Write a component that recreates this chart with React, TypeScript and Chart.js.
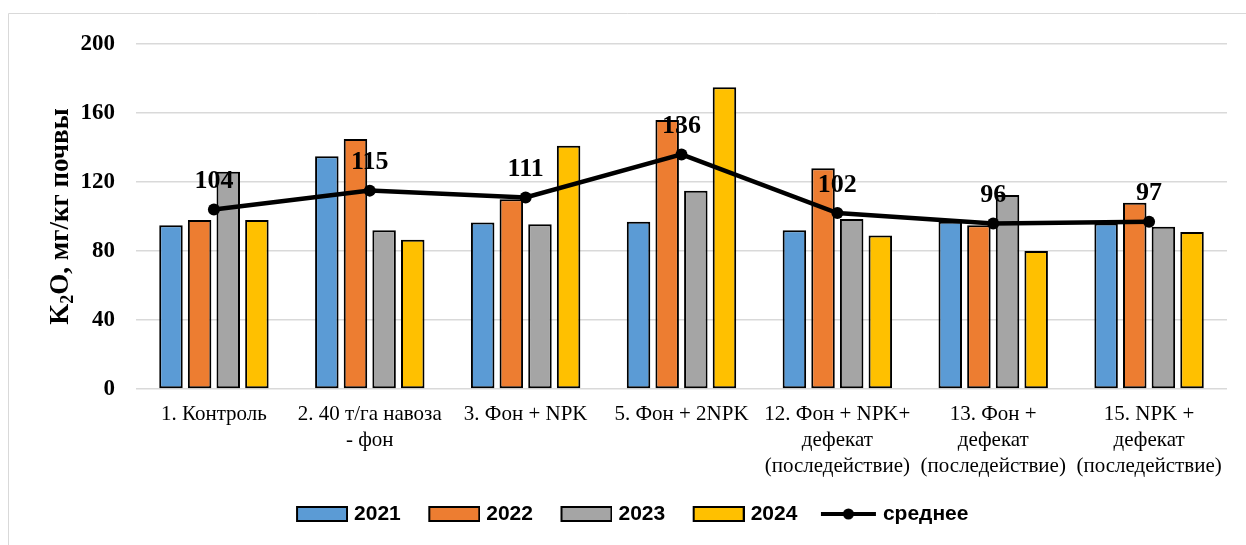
import React, { useEffect, useRef } from 'react';
import { Chart, registerables } from 'chart.js';

Chart.register(...registerables);

const categories: (string | string[])[] = [
  '1. Контроль',
  ['2. 40 т/га навоза', '- фон'],
  '3. Фон + NPK',
  '5. Фон + 2NPK',
  ['12. Фон + NPK+', 'дефекат', '(последействие)'],
  ['13. Фон +', 'дефекат', '(последействие)'],
  ['15. NPK +', 'дефекат', '(последействие)'],
];

const values2021 = [95, 135, 96.5, 97, 92, 97, 96];
const values2022 = [98, 145, 110, 156, 128, 95, 108];
const values2023 = [126, 92, 95.5, 115, 98.5, 112.5, 94];
const values2024 = [98, 86.5, 141, 175, 89, 80, 91];
const meanValues = [104, 115, 111, 136, 102, 96, 97];

const seriesLabels = ['2021', '2022', '2023', '2024', 'среднее'];
const seriesColors = ['#5B9BD5', '#ED7D31', '#A5A5A5', '#FFC000'];

const yMin = 0;
const yMax = 200;
const yStep = 40;

const SERIF = "'Liberation Serif', 'Times New Roman', serif";
const SANS = "'Liberation Sans', Arial, sans-serif";

function makeBoxImage(color: string): HTMLCanvasElement {
  const c = document.createElement('canvas');
  c.width = 64;
  c.height = 16;
  const ctx = c.getContext('2d')!;
  ctx.fillStyle = color;
  ctx.fillRect(13, 1, 50, 14);
  ctx.strokeStyle = '#000';
  ctx.lineWidth = 2;
  ctx.strokeRect(13, 1, 50, 14);
  return c;
}

function makeLineImage(): HTMLCanvasElement {
  const c = document.createElement('canvas');
  c.width = 64;
  c.height = 14;
  const ctx = c.getContext('2d')!;
  ctx.strokeStyle = '#000';
  ctx.lineWidth = 4;
  ctx.beginPath();
  ctx.moveTo(8, 7);
  ctx.lineTo(63, 7);
  ctx.stroke();
  ctx.fillStyle = '#000';
  ctx.beginPath();
  ctx.arc(35.5, 7, 5.5, 0, Math.PI * 2);
  ctx.fill();
  return c;
}

const framePlugin = {
  id: 'frame',
  beforeDraw(chart: any) {
    const ctx = chart.ctx;
    ctx.save();
    ctx.strokeStyle = '#D9D9D9';
    ctx.lineWidth = 1;
    ctx.beginPath();
    ctx.moveTo(8.5, chart.height);
    ctx.lineTo(8.5, 13.5);
    ctx.lineTo(chart.width, 13.5);
    ctx.stroke();
    ctx.restore();
  },
};

const yTitlePlugin = {
  id: 'yTitle',
  afterDraw(chart: any) {
    const ctx = chart.ctx;
    const area = chart.chartArea;
    const cy = (area.top + area.bottom) / 2;
    const size = 27;
    const subSize = 18;
    const big = `bold ${size}px ${SERIF}`;
    const small = `bold ${subSize}px ${SERIF}`;
    ctx.save();
    ctx.fillStyle = '#000';
    ctx.textBaseline = 'alphabetic';
    ctx.textAlign = 'left';
    ctx.font = big;
    const wK = ctx.measureText('K').width;
    const rest = 'O, мг/кг почвы';
    const wRest = ctx.measureText(rest).width;
    ctx.font = small;
    const w2 = ctx.measureText('2').width;
    const total = wK + w2 + wRest;
    ctx.translate(68, cy);
    ctx.rotate(-Math.PI / 2);
    let x = -total / 2;
    ctx.font = big;
    ctx.fillText('K', x, 0);
    x += wK;
    ctx.font = small;
    ctx.fillText('2', x, 5);
    x += w2;
    ctx.font = big;
    ctx.fillText(rest, x, 0);
    ctx.restore();
  },
};

const meanLabelPlugin = {
  id: 'meanLabels',
  afterDatasetsDraw(chart: any) {
    const idx = 4;
    const meta = chart.getDatasetMeta(idx);
    const ds = chart.data.datasets[idx];
    const ctx = chart.ctx;
    ctx.save();
    ctx.fillStyle = '#000';
    ctx.font = `bold 26px ${SERIF}`;
    ctx.textAlign = 'center';
    ctx.textBaseline = 'middle';
    meta.data.forEach((pt: any, i: number) => {
      ctx.fillText(String(ds.data[i]), pt.x, pt.y - 28);
    });
    ctx.restore();
  },
};

export default function App() {
  const canvasRef = useRef<HTMLCanvasElement | null>(null);

  useEffect(() => {
    const canvas = canvasRef.current;
    if (!canvas) return;
    const legendImages = [
      makeBoxImage(seriesColors[0]),
      makeBoxImage(seriesColors[1]),
      makeBoxImage(seriesColors[2]),
      makeBoxImage(seriesColors[3]),
      makeLineImage(),
    ];
    const barSeries = [values2021, values2022, values2023, values2024];
    const datasets: any[] = barSeries.map((vals, i) => ({
      type: 'bar',
      label: seriesLabels[i],
      data: vals,
      backgroundColor: seriesColors[i],
      borderColor: '#000',
      borderWidth: 2,
      borderSkipped: false,
      categoryPercentage: 0.735,
      barPercentage: 0.82,
      order: 1,
    }));
    datasets.push({
      type: 'line',
      label: seriesLabels[4],
      data: meanValues,
      borderColor: '#000',
      backgroundColor: '#000',
      borderWidth: 4.5,
      pointRadius: 6,
      pointBackgroundColor: '#000',
      pointBorderColor: '#000',
      pointBorderWidth: 0,
      tension: 0,
      fill: false,
      order: 0,
    });

    const chart = new Chart(canvas, {
      type: 'bar',
      data: { labels: categories as any, datasets },
      plugins: [framePlugin, yTitlePlugin, meanLabelPlugin],
      options: {
        responsive: false,
        animation: false,
        devicePixelRatio: 1,
        layout: { padding: { left: 30, right: 19, top: 44, bottom: 10.5 } },
        plugins: {
          tooltip: { enabled: false },
          title: { display: false },
          legend: {
            display: true,
            position: 'bottom',
            labels: {
              usePointStyle: true,
              pointStyleWidth: 55,
              padding: 20,
              color: '#000',
              font: { family: SANS, size: 21, weight: 'bold' },
              generateLabels: (ch: any) =>
                ch.data.datasets.map((d: any, i: number) => ({
                  text: d.label,
                  pointStyle: legendImages[i],
                  fillStyle: 'rgba(0,0,0,0)',
                  strokeStyle: 'rgba(0,0,0,0)',
                  lineWidth: 0,
                  hidden: false,
                  datasetIndex: i,
                  fontColor: '#000',
                })),
            },
          },
        },
        scales: {
          x: {
            grid: { display: false, drawTicks: false },
            border: { display: false },
            ticks: {
              color: '#000',
              padding: 12,
              maxRotation: 0,
              minRotation: 0,
              autoSkip: false,
              font: { family: SERIF, size: 21, lineHeight: 1.25 },
            },
            afterFit: (scale: any) => {
              scale.height = 94.5;
            },
          },
          y: {
            min: yMin,
            max: yMax,
            grid: { color: '#D9D9D9', lineWidth: 1.5, drawTicks: false },
            border: { display: false },
            ticks: {
              stepSize: yStep,
              color: '#000',
              padding: 21,
              font: { family: SERIF, size: 23, weight: 'bold' },
            },
            afterFit: (scale: any) => {
              scale.width = 106;
            },
          },
        },
      } as any,
    });
    return () => chart.destroy();
  }, []);

  return (
    <div style={{ position: 'absolute', left: 0, top: 0, width: 1246, height: 545, background: '#fff' }}>
      <canvas ref={canvasRef} width={1246} height={545} style={{ display: 'block' }} />
    </div>
  );
}
